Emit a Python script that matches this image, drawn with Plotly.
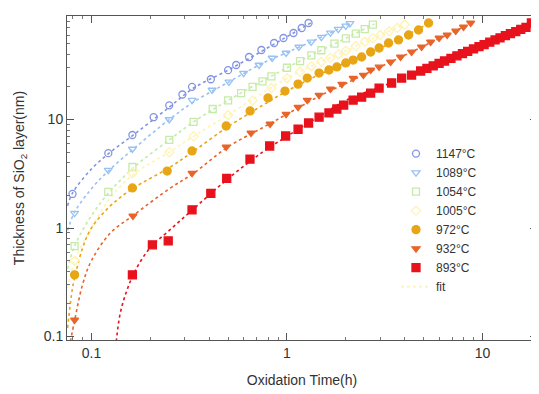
import plotly.graph_objects as go

# ---------------- data ----------------
labels = ["1147°C", "1089°C", "1054°C", "1005°C", "972°C", "932°C", "893°C"]
colors = ["#8494e2", "#98c2f2", "#c6eba8", "#fff3b4", "#e8a514", "#e8642a", "#e8121c"]
symbols = ["circle-open", "triangle-down-open", "square-open", "diamond-open",
           "circle", "triangle-down", "square"]
sizes = [7, 7, 7, 7, 8, 7, 8]

t_1147 = [0.08, 0.122, 0.162, 0.208, 0.25, 0.292, 0.327, 0.408, 0.5, 0.55, 0.64, 0.74,
          0.86, 0.96, 1.08, 1.19, 1.29]
d_1147 = [2.06, 4.9, 7.2, 10.5, 13.5, 17.0, 20.0, 23.5, 28.5, 31.8, 37.7, 43.7,
          50.7, 56.4, 62.7, 69.7, 77.5]

t_1089 = [0.082, 0.122, 0.162, 0.25, 0.327, 0.414, 0.505, 0.60, 0.72, 0.84, 0.99,
          1.15, 1.33, 1.5, 1.67, 1.83, 2.0, 2.1]
d_1089 = [1.37, 3.42, 5.35, 10.0, 15.1, 18.7, 22.2, 26.8, 31.8, 36.9, 41.0,
          46.6, 52.0, 57.5, 63.0, 68.0, 73.0, 77.0]

t_1054 = [0.082, 0.122, 0.162, 0.25, 0.333, 0.417, 0.5, 0.583, 0.667, 0.75, 0.833,
          1.0, 1.167, 1.333, 1.5, 1.75, 2.0, 2.25, 2.5, 2.75]
d_1054 = [0.68, 2.15, 3.65, 6.5, 9.5, 12.5, 15.0, 17.5, 20.0, 22.5, 25.0,
          30.0, 34.5, 39.0, 43.5, 50.0, 56.0, 62.0, 68.0, 75.0]

t_1005 = [0.082, 0.162, 0.25, 0.333, 0.5, 0.667, 0.833, 1.0, 1.167, 1.333, 1.5,
          1.667, 1.833, 2.0, 2.25, 2.5, 2.75, 3.0, 3.33, 3.67, 4.0]
d_1005 = [0.5, 3.2, 5.0, 7.0, 11.0, 15.0, 19.5, 24.0, 27.5, 31.0, 34.0,
          37.0, 40.0, 43.0, 47.5, 52.0, 56.0, 60.0, 65.0, 70.0, 75.0]

t_972 = [0.082, 0.162, 0.244, 0.327, 0.489, 0.648, 0.80, 0.977, 1.14, 1.27, 1.46,
         1.64, 1.80, 2.0, 2.18, 2.41, 2.68, 2.96, 3.31, 3.72, 4.19, 4.71, 5.30]
d_972 = [0.37, 2.34, 3.35, 5.13, 8.71, 12.0, 15.8, 18.3, 21.2, 24.1, 26.8,
         28.6, 30.5, 33.2, 35.3, 37.7, 41.9, 45.6, 50.7, 54.1, 60.1, 66.8, 77.5]

t_932 = [0.082, 0.163, 0.327, 0.489, 0.655, 0.82, 0.99, 1.14, 1.27, 1.46, 1.67,
         1.91, 2.18, 2.46, 2.68, 2.96, 3.39, 3.81, 4.34, 4.88, 5.43, 6.0, 6.6,
         7.3, 8.0, 8.7]
d_932 = [0.142, 1.29, 3.21, 5.58, 7.51, 9.09, 11.2, 13.0, 15.1, 16.8, 19.1,
         21.2, 24.1, 25.7, 28.6, 30.5, 33.9, 37.7, 41.9, 46.6, 51.8, 56.4, 60.1,
         65.5, 71.2, 77.5]

t_893 = [0.162, 0.205, 0.247, 0.327, 0.408, 0.492, 0.647, 0.816, 0.985, 1.14, 1.29,
         1.46, 1.64, 1.80, 1.95, 2.18, 2.41, 2.68, 2.96, 3.43, 3.86, 4.34, 4.83,
         5.2, 5.6, 6.0, 6.4, 6.9, 7.4, 7.9, 8.4, 9.0, 9.6, 10.2, 10.9, 11.6,
         12.3, 13.1, 13.9, 14.8, 15.7, 16.7, 17.8]
d_893 = [0.37, 0.70, 0.76, 1.47, 2.09, 2.87, 4.32, 5.70, 7.05, 8.13, 9.29,
         10.5, 11.5, 12.5, 13.6, 15.1, 16.1, 17.5, 19.5, 21.7, 24.1, 25.7, 28.0,
         29.6, 31.2, 32.9, 34.6, 36.6, 38.6, 40.5, 42.4, 44.7, 46.9, 49.1, 51.6, 54.1,
         56.5, 59.2, 61.8, 64.7, 67.6, 70.6, 77.5]

# fit curves (dotted)
ft_1147 = [0.0755, 0.08, 0.1, 0.125, 0.167, 0.25, 0.333, 0.5, 0.75, 1.0, 1.33]
fd_1147 = [1.6, 2.1, 3.5, 5.0, 7.4, 13.0, 19.5, 28.5, 43.0, 58.0, 78.0]
ft_1089 = [0.0755, 0.082, 0.1, 0.125, 0.167, 0.25, 0.333, 0.5, 0.75, 1.0, 1.5, 2.1]
fd_1089 = [0.95, 1.4, 2.3, 3.5, 5.5, 10.0, 14.5, 22.0, 33.0, 41.5, 57.5, 77.0]
ft_1054 = [0.0755, 0.082, 0.1, 0.125, 0.167, 0.25, 0.333, 0.5, 1.0, 1.5, 2.0, 2.8]
fd_1054 = [0.42, 0.68, 1.3, 2.2, 3.7, 6.5, 9.5, 15.0, 30.0, 43.5, 56.0, 76.0]
ft_1005 = [0.0755, 0.082, 0.1, 0.125, 0.167, 0.25, 0.333, 0.5, 1.0, 2.0, 3.0, 4.0]
fd_1005 = [0.28, 0.5, 1.0, 1.9, 3.2, 5.0, 7.0, 11.0, 24.0, 43.0, 60.0, 75.0]
ft_972 = [0.0755, 0.08, 0.083, 0.09, 0.1, 0.125, 0.162, 0.25, 0.333, 0.5, 0.75, 1.0,
          1.5, 2.0, 3.0, 5.4]
fd_972 = [0.12, 0.28, 0.38, 0.65, 1.0, 1.6, 2.3, 3.6, 5.1, 8.6, 13.5, 18.3,
          26.5, 33.5, 45.5, 78.0]
ft_932 = [0.078, 0.082, 0.09, 0.1, 0.125, 0.163, 0.25, 0.333, 0.5, 0.75, 1.0, 1.5,
          2.0, 3.0, 5.0, 9.0]
fd_932 = [0.09, 0.14, 0.3, 0.5, 0.9, 1.3, 2.3, 3.2, 5.6, 8.4, 11.2, 16.8,
          21.5, 30.5, 47.5, 79.0]
ft_893 = [0.134, 0.14, 0.15, 0.167, 0.2, 0.25, 0.333, 0.5, 0.75, 1.0, 1.5, 2.0,
          3.0, 5.0, 10.0, 18.0]
fd_893 = [0.09, 0.16, 0.25, 0.40, 0.66, 0.95, 1.5, 2.85, 5.0, 7.0, 11.0, 15.0,
          20.0, 28.0, 47.0, 78.0]

series_t = [t_1147, t_1089, t_1054, t_1005, t_972, t_932, t_893]
series_d = [d_1147, d_1089, d_1054, d_1005, d_972, d_932, d_893]
fits_t = [ft_1147, ft_1089, ft_1054, ft_1005, ft_972, ft_932, ft_893]
fits_d = [fd_1147, fd_1089, fd_1054, fd_1005, fd_972, fd_932, fd_893]

# ---------------- figure ----------------
fig = go.Figure()

for i in range(7):
    fig.add_trace(go.Scatter(
        x=fits_t[i], y=fits_d[i], mode="lines", line_shape="spline",
        line=dict(color=colors[i], width=1.6, dash="dot"),
        name="fit", showlegend=(i == 3), legendrank=100, hoverinfo="skip"))

for i in range(7):
    fig.add_trace(go.Scatter(
        x=series_t[i], y=series_d[i], mode="markers", name=labels[i],
        legendrank=i + 1,
        marker=dict(symbol=symbols[i], color=colors[i], size=sizes[i],
                    line=dict(color=colors[i], width=1.3))))

font_main = "Liberation Sans, Arial"
axis_common = dict(
    type="log", showline=True, linecolor="#555", linewidth=1, mirror="allticks",
    ticks="inside", ticklen=7, tickcolor="#555", showgrid=False, zeroline=False,
    dtick=1, automargin=False,
    tickfont=dict(family=font_main, size=14, color="#333"),
    minor=dict(ticks="inside", ticklen=3, tickcolor="#777", dtick="D1", showgrid=False),
)

fig.update_xaxes(**axis_common, range=[-1.125, 1.279],
                 title=dict(text="Oxidation Time(h)",
                            font=dict(family=font_main, size=14, color="#333")))
fig.update_yaxes(**axis_common, range=[-1.032, 1.954],
                 title=dict(text="Thickness of SiO<sub>2</sub> layer(nm)",
                            font=dict(family=font_main, size=14, color="#333")))

# the page body adds an 8px offset, so the figure is 8px smaller on each side
fig.update_layout(
    width=531, height=386,
    margin=dict(l=59, r=2, t=8, b=54, autoexpand=False),
    paper_bgcolor="white", plot_bgcolor="white",
    showlegend=True,
    legend=dict(x=0.70, y=0.62, xanchor="left", yanchor="top",
                bgcolor="rgba(0,0,0,0)", borderwidth=0,
                font=dict(family=font_main, size=12, color="#333"),
                itemwidth=30, tracegroupgap=0),
)

fig.write_html("out.html")
